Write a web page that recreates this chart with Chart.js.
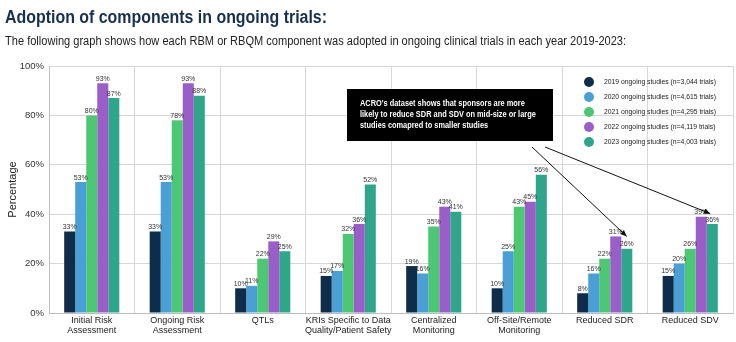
<!DOCTYPE html>
<html>
<head>
<meta charset="utf-8">
<script src="https://cdn.jsdelivr.net/npm/chart.js@4.4.1/dist/chart.umd.min.js"></script>
<style>
  body { margin: 0; background: #fff; }
  #wrap { position: relative; width: 736px; height: 342px; }
  #title { position: absolute; left: 5px; top: 7px; font: bold 17.5px "Liberation Sans", sans-serif; color: #17304d; white-space: nowrap; transform: scaleX(0.91); transform-origin: 0 0; }
  #subtitle { position: absolute; left: 5px; top: 34px; font: 12.5px "Liberation Sans", sans-serif; color: #222; white-space: nowrap; transform: scaleX(0.885); transform-origin: 0 0; }
  canvas { position: absolute; left: 0; top: 0; }
</style>
</head>
<body>
<div id="wrap">
  <canvas id="chart" width="736" height="342"></canvas>
  <div id="title">Adoption of components in ongoing trials:</div>
  <div id="subtitle">The following graph shows how each RBM or RBQM component was adopted in ongoing clinical trials in each year 2019-2023:</div>
</div>
<script>
// categories (multi-line labels)
const categories = [
  ['Initial Risk', 'Assessment'],
  ['Ongoing Risk', 'Assessment'],
  ['QTLs'],
  ['KRIs Specific to Data', 'Quality/Patient Safety'],
  ['Centralized', 'Monitoring'],
  ['Off-Site/Remote', 'Monitoring'],
  ['Reduced SDR'],
  ['Reduced SDV']
];

const seriesNames = [
  '2019 ongoing studies (n=3,044 trials)',
  '2020 ongoing studies (n=4,615 trials)',
  '2021 ongoing studies (n=4,295 trials)',
  '2022 ongoing studies (n=4,119 trials)',
  '2023 ongoing studies (n=4,003 trials)'
];

const values2019 = [33, 33, 10, 15, 19, 10, 8, 15];
const values2020 = [53, 53, 11, 17, 16, 25, 16, 20];
const values2021 = [80, 78, 22, 32, 35, 43, 22, 26];
const values2022 = [93, 93, 29, 36, 43, 45, 31, 39];
const values2023 = [87, 88, 25, 52, 41, 56, 26, 36];

const yTicks = [0, 20, 40, 60, 80, 100];

const noteLines = [
  "ACRO's dataset shows that sponsors are more",
  'likely to reduce SDR and SDV on mid-size or large',
  'studies comapred to smaller studies'
];

const colors = ['#0f2d4a', '#4a9fd5', '#4ec774', '#9a5ec9', '#2fa68a'];
const allValues = [values2019, values2020, values2021, values2022, values2023];

const FONT = '"Liberation Sans", sans-serif';

// data labels above bars
const valueLabels = {
  id: 'valueLabels',
  afterDatasetsDraw(chart) {
    const c = chart.ctx;
    c.save();
    c.font = '7px ' + FONT;
    c.fillStyle = '#333';
    c.textAlign = 'center';
    c.textBaseline = 'bottom';
    chart.data.datasets.forEach((ds, i) => {
      chart.getDatasetMeta(i).data.forEach((bar, j) => {
        c.fillText(ds.data[j] + '%', bar.x, bar.y - 1);
      });
    });
    c.restore();
  }
};

// legend inside the plot + callout box with arrows
const overlay = {
  id: 'overlay',
  afterDraw(chart) {
    const c = chart.ctx;
    const y = chart.scales.y;
    c.save();

    // legend
    c.font = '6.8px ' + FONT;
    c.textBaseline = 'middle';
    chart.data.datasets.forEach((ds, i) => {
      const ly = 82 + i * 15;
      c.fillStyle = ds.backgroundColor;
      c.beginPath();
      c.arc(589, ly, 5, 0, Math.PI * 2);
      c.fill();
      c.fillStyle = '#222';
      c.fillText(ds.label, 604, ly);
    });

    // callout
    c.fillStyle = '#000';
    c.fillRect(347, 89, 206, 52);
    c.save();
    c.translate(360, 0);
    c.scale(0.86, 1);
    c.fillStyle = '#fff';
    c.font = 'bold 8.6px ' + FONT;
    c.textBaseline = 'middle';
    noteLines.forEach((t, i) => c.fillText(t, 0, 104 + i * 11));
    c.restore();

    // arrows pointing at the 2022 bars of Reduced SDR / SDV
    const bar = (ds, idx) => chart.getDatasetMeta(ds).data[idx];
    const b1 = bar(3, 6), b2 = bar(3, 7);
    drawArrow(c, 532, 147, b1.x + 11, y.getPixelForValue(values2022[6]));
    drawArrow(c, 545, 147, b2.x + 9, y.getPixelForValue(values2022[7]) - 3);
    c.restore();
  }
};

function drawArrow(c, x1, y1, x2, y2) {
  const a = Math.atan2(y2 - y1, x2 - x1);
  c.strokeStyle = '#111';
  c.fillStyle = '#111';
  c.lineWidth = 1;
  c.beginPath();
  c.moveTo(x1, y1);
  c.lineTo(x2, y2);
  c.stroke();
  c.beginPath();
  c.moveTo(x2, y2);
  c.lineTo(x2 - 7 * Math.cos(a - 0.4), y2 - 7 * Math.sin(a - 0.4));
  c.lineTo(x2 - 7 * Math.cos(a + 0.4), y2 - 7 * Math.sin(a + 0.4));
  c.closePath();
  c.fill();
}

new Chart(document.getElementById('chart').getContext('2d'), {
  type: 'bar',
  data: {
    labels: categories,
    datasets: allValues.map((vals, i) => ({
      label: seriesNames[i],
      data: vals,
      backgroundColor: colors[i],
      barPercentage: 1,
      categoryPercentage: 0.645
    }))
  },
  options: {
    responsive: false,
    devicePixelRatio: 1,
    animation: false,
    layout: { padding: { top: 66, right: 3, left: 0, bottom: 0 } },
    plugins: {
      legend: { display: false },
      tooltip: { enabled: false }
    },
    scales: {
      y: {
        min: 0,
        max: 100,
        afterBuildTicks: s => { s.ticks = yTicks.map(v => ({ value: v })); },
        afterFit: s => { s.width = 49; },
        ticks: {
          callback: v => v + '%',
          color: '#333',
          font: { family: FONT, size: 9.5 },
          padding: 5
        },
        grid: { color: '#d6d6d6', drawTicks: false },
        border: { color: '#bdbdbd' },
        title: {
          display: true,
          text: 'Percentage',
          color: '#222',
          font: { family: FONT, size: 11 },
          padding: { top: 6, bottom: 0 }
        }
      },
      x: {
        afterFit: s => { s.height = 29; },
        ticks: {
          color: '#222',
          font: { family: FONT, size: 9, lineHeight: 1.15 },
          maxRotation: 0,
          autoSkip: false,
          padding: 2
        },
        grid: { color: '#d6d6d6', drawTicks: false },
        border: { color: '#bdbdbd' }
      }
    }
  },
  plugins: [valueLabels, overlay]
});
</script>
</body>
</html>
